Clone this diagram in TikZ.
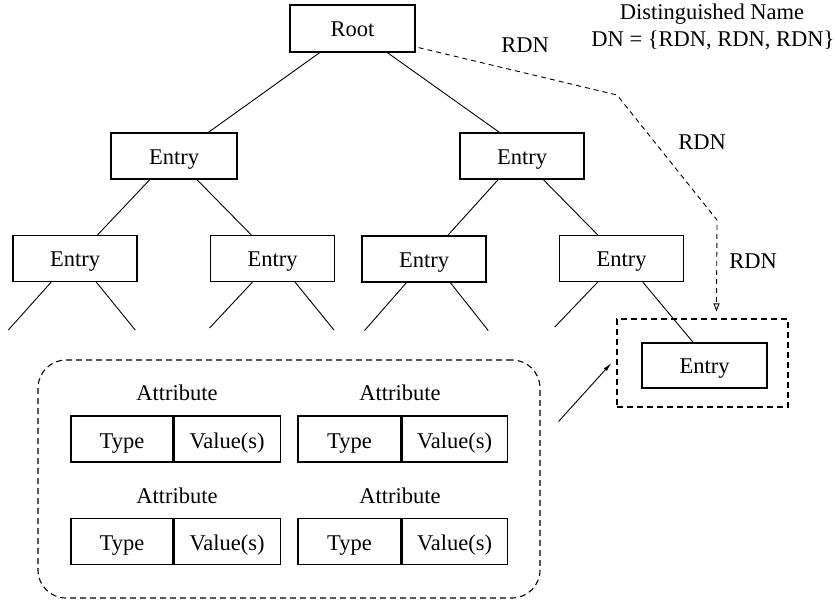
\documentclass[tikz,border=0pt]{standalone}
\usepackage{fontspec}
\setmainfont{Liberation Serif}
\usetikzlibrary{calc,arrows.meta}
\begin{document}
\begin{tikzpicture}[x=1pt,y=-1pt,
  every node/.style={font=\fontsize{22.5}{26}\selectfont},
  box/.style={draw,line width=1.2pt,inner sep=0pt,minimum width=124pt,minimum height=46pt,
    text height=16pt,text depth=0pt},
  cell/.style={draw,line width=1.2pt,inner sep=0pt,minimum height=46pt,
    text height=18pt,text depth=0pt},
  branch/.style={line width=0.9pt},
  dashbox/.style={draw,line width=1.1pt,dash pattern=on 6pt off 4pt,inner sep=0pt},
  label/.style={inner sep=0pt}]
\useasboundingbox (0,0) rectangle (835,603);

% tree of entries
\node[box,minimum width=125pt,minimum height=47pt] (root) at (352.5,28.5) {Root};
\node[box,minimum width=126pt] (l1a) at (174,156) {Entry};
\node[box] (l1b) at (522,156) {Entry};
\node[box] (l2a) at (75,258.5) {Entry};
\node[box] (l2b) at (272.5,258.5) {Entry};
\node[box] (l2c) at (424,259) {Entry};
\node[box] (l2d) at (621.5,258.5) {Entry};

% selected entry and its dashed frame
\node[box,minimum width=125pt,minimum height=45pt] (sel) at (704.5,365.5) {Entry};
\node[dashbox,minimum width=171pt,minimum height=88pt] (dnbox) at (702.5,363) {};

\draw[branch] ($(root.south west)!0.24!(root.south east)$) -- ($(l1a.north west)!0.77!(l1a.north east)$);
\draw[branch] ($(root.south west)!0.776!(root.south east)$) -- ($(l1b.north west)!0.32!(l1b.north east)$);
\draw[branch] ($(l1a.south west)!0.31!(l1a.south east)$) -- ($(l2a.north west)!0.68!(l2a.north east)$);
\draw[branch] ($(l1a.south west)!0.68!(l1a.south east)$) -- ($(l2b.north west)!0.33!(l2b.north east)$);
\draw[branch] ($(l1b.south west)!0.31!(l1b.south east)$) -- ($(l2c.north west)!0.69!(l2c.north east)$);
\draw[branch] ($(l1b.south west)!0.67!(l1b.south east)$) -- ($(l2d.north west)!0.31!(l2d.north east)$);
\draw[branch] ($(l2d.south west)!0.67!(l2d.south east)$) -- ($(sel.north west)!0.41!(sel.north east)$);

% open subtrees below the second level
\draw[branch] ($(l2a.south west)!0.31!(l2a.south east)$) -- ++(-43,48);
\draw[branch] ($(l2a.south west)!0.67!(l2a.south east)$) -- ++(39,48);
\draw[branch] ($(l2b.south west)!0.34!(l2b.south east)$) -- ++(-43,46);
\draw[branch] ($(l2b.south west)!0.68!(l2b.south east)$) -- ++(39,48);
\draw[branch] ($(l2c.south west)!0.36!(l2c.south east)$) -- ++(-42,48);
\draw[branch] ($(l2c.south west)!0.71!(l2c.south east)$) -- ++(38,48);
\draw[branch] ($(l2d.south west)!0.31!(l2d.south east)$) -- ++(-43,45);

% distinguished name path
\coordinate (p0) at ($(root.south east)+(3,-5)$);
\coordinate (p1) at (617,95);
\coordinate (p2) at (717,220);
\coordinate (p3) at ($(dnbox.north west)+(100,-7)$);
\draw[line width=0.9pt,dash pattern=on 5pt off 4pt,-{Triangle[open,length=8pt,width=6pt]}]
  (p0) -- (p1) -- (p2) -- (p3);

\node[label] (rdn1) at (525,45) {RDN};
\node[label] (rdn2) at (702,142) {RDN};
\node[label] (rdn3) at (753,261) {RDN};
\node[label] (dnt) at (712,14) {Distinguished Name};
\node[label] (dnv) at (713,40) {DN = \{RDN, RDN, RDN\}};

% attributes of the entry
\node[dashbox,rounded corners=28pt,minimum width=502pt,minimum height=238pt] (attrbox) at (289,479) {};

\node[label] (a1) at (177,393) {Attribute};
\node[cell,minimum width=102pt] (t1) at (122,439) {Type};
\node[cell,minimum width=106pt,anchor=west] (v1) at (t1.east) {Value(s)};
\node[label] (a2) at (400,393) {Attribute};
\node[cell,minimum width=103pt] (t2) at (349.5,439) {Type};
\node[cell,minimum width=105pt,anchor=west] (v2) at (t2.east) {Value(s)};
\node[label] (a3) at (177,496) {Attribute};
\node[cell,minimum width=102pt] (t3) at (122,541.5) {Type};
\node[cell,minimum width=106pt,anchor=west] (v3) at (t3.east) {Value(s)};
\node[label] (a4) at (400,496) {Attribute};
\node[cell,minimum width=103pt] (t4) at (349.5,541.5) {Type};
\node[cell,minimum width=105pt,anchor=west] (v4) at (t4.east) {Value(s)};

\draw[line width=0.9pt,-{Latex[length=9pt,width=4pt]}]
  ($(attrbox.north east)+(18,62)$) -- ($(dnbox.west)+(-5,0)$);
\end{tikzpicture}
\end{document}
